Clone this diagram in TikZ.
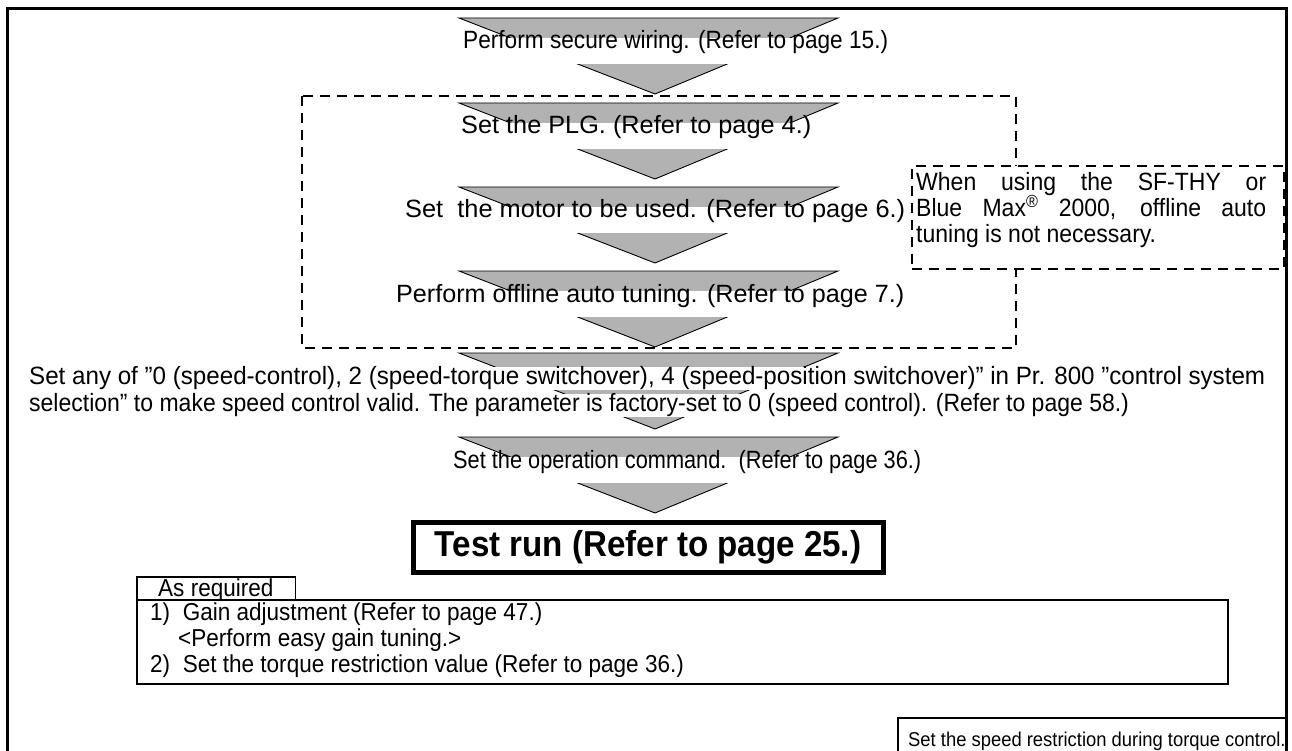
\documentclass[tikz,border=0pt]{standalone}
\usepackage{fontspec}
\usepackage{graphicx}
\setmainfont{Liberation Sans}[FakeStretch=0.92]
\definecolor{arrowgray}{RGB}{178,178,178}
\newcommand\mainsize{\fontsize{25}{29}\selectfont}
\newcommand\smallsize{\fontsize{24.5}{28}\selectfont}
\newcommand\fitto[2]{\resizebox{#1}{\height}{#2}}
\tikzset{
  tri/.style={fill=arrowgray, draw=black, line width=0.9pt},
  band/.style={fill=white, inner xsep=1pt, inner ysep=0pt, text height=11pt, text depth=15pt, anchor=base west, font=\mainsize},
  plain/.style={inner sep=0pt, anchor=base west, font=\mainsize},
  small/.style={inner sep=0pt, anchor=base west, font=\smallsize},
  dashbox/.style={draw=black, line width=1.6pt, dash pattern=on 10pt off 7pt},
  thinbox/.style={draw=black, line width=1.6pt},
}
\newcommand\arrowtri[1]{\draw[tri] (459,#1) -- (838,#1) -- (655,{#1+76}) -- cycle;}
\begin{document}
\begin{tikzpicture}[x=1pt,y=-1pt]
\useasboundingbox (0,0) rectangle (1292,751);
\clip (0,0) rectangle (1292,751);
% outer frame
\draw[line width=3pt] (7,9) rectangle (1286,800);
% big dashed box
\draw[dashbox] (302,96) rectangle (1016,348);
% steps
\arrowtri{18}
\node[band] (s1) at (462,49) {\fitto{425pt}{Perform secure wiring. (Refer to page 15.)}};
\arrowtri{103}
\node[band] (s2) at (460,134) {\fitto{350pt}{Set the PLG. (Refer to page 4.)}};
\arrowtri{187}
\node[band] (s3) at (404,218) {\fitto{500pt}{Set\ \ the motor to be used. (Refer to page 6.)}};
\arrowtri{271}
\node[band] (s4) at (395,302) {\fitto{508pt}{Perform offline auto tuning. (Refer to page 7.)}};
\arrowtri{353}
\node[band, text height=17pt, text depth=6pt] (s5a) at (28,384) {\fitto{1236pt}{Set any of "0 (speed-control), 2 (speed-torque switchover), 4 (speed-position switchover)" in Pr. 800 "control system}};
\node[band, text height=17pt, text depth=6pt] (s5b) at (28,411) {selection" to make speed control valid. The parameter is factory-set to 0 (speed control). (Refer to page 58.)};
\arrowtri{437}
\node[band] (s6) at (452,468) {\fitto{468pt}{Set the operation command.\ \ (Refer to page 36.)}};
% note box
\node[dashbox, fill=white, minimum width=372pt, minimum height=103pt, anchor=north west, inner sep=0pt] (note) at (911,165) {};
\node[plain] (n1) at (916,191) {\makebox[350pt][s]{When using the SF-THY or}};
\node[plain] (n2) at (916,217) {\makebox[350pt][s]{Blue Max\textsuperscript{\textregistered} 2000, offline auto}};
\node[plain] (n3) at (916,243) {tuning is not necessary.};
% test run
\node[draw=black, line width=5pt, minimum width=470pt, minimum height=50pt, inner sep=0pt, font=\fontsize{36}{40}\selectfont\bfseries] (test) at (648,547) {Test run (Refer to page 25.)};
% as required
\node[small] (asreq) at (158,596) {As required};
\draw[thinbox] (137,577) rectangle ([xshift=22pt]asreq.east |- 0,600);
\draw[thinbox] (137,600) rectangle (1228,684);
\node[small] (l1) at (150,620) {1)\ \ Gain adjustment (Refer to page 47.)};
\node[small] (l2) at (178,646) {<Perform easy gain tuning.>};
\node[small] (l3) at (150,672) {2)\ \ Set the torque restriction value (Refer to page 36.)};
% bottom box
\draw[thinbox] (898,718) rectangle (1286,800);
\node[small, font=\fontsize{20}{24}\selectfont] (sp) at (908,746) {Set the speed restriction during torque control.};
\end{tikzpicture}
\end{document}
